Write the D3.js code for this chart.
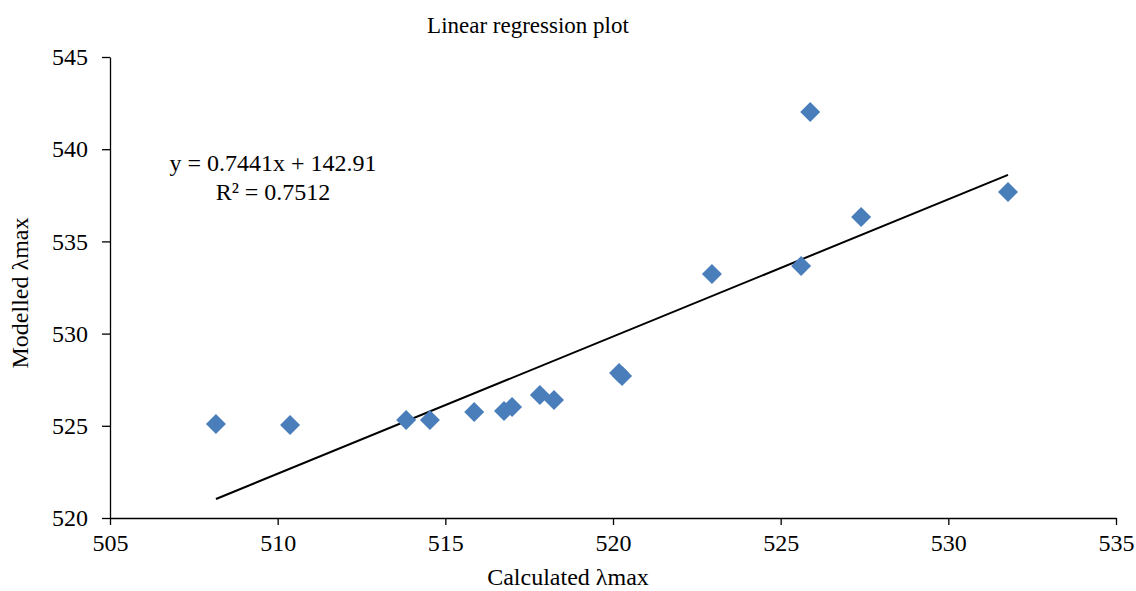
<!DOCTYPE html>
<html><head><meta charset="utf-8">
<script src="https://cdn.jsdelivr.net/npm/d3@7"></script>
<style>body{margin:0;background:#fff}svg{display:block}text{font-family:"Liberation Serif","Times New Roman",serif;fill:#000}</style>
</head><body>
<script>
const calculated = [508.16, 510.37, 513.83, 514.54, 515.86, 516.75, 516.99, 517.82, 518.24, 520.18, 520.27, 522.95, 525.61, 525.88, 527.40, 531.78];
const modelled   = [525.10, 525.04, 525.31, 525.31, 525.75, 525.80, 526.02, 526.67, 526.40, 527.86, 527.70, 533.23, 533.67, 542.02, 536.32, 537.68];
const xTicks = [505, 510, 515, 520, 525, 530, 535];
const yTicks = [520, 525, 530, 535, 540, 545];
const slope = 0.7441, intercept = 142.91;
const equationText = "y = 0.7441x + 142.91";
const r2Text = "R² = 0.7512";
const titleText = "Linear regression plot";
const xTitle = "Calculated λmax";
const yTitle = "Modelled  λmax";

const W = 1136, H = 591;
const svg = d3.select("body").append("svg").attr("width", W).attr("height", H);
const x = d3.scaleLinear().domain([505, 535]).range([110, 1116]);
const y = d3.scaleLinear().domain([520, 545]).range([518, 57]);

const xAxis = svg.append("g").attr("transform", `translate(0,${y(520)})`)
  .call(d3.axisBottom(x).tickValues(xTicks).tickSize(7).tickSizeOuter(0).tickPadding(9));
const yAxis = svg.append("g").attr("transform", `translate(${x(505)},0)`)
  .call(d3.axisLeft(y).tickValues(yTicks).tickSize(8).tickSizeOuter(0).tickPadding(14));
[xAxis, yAxis].forEach(a => {
  a.attr("font-family", "Liberation Serif").attr("font-size", 24);
  a.selectAll("path,line").attr("stroke", "#000").attr("stroke-width", 1.3);
  a.selectAll("text").style("font-size", "24px").style("font-family", "'Liberation Serif', serif");
});

// trendline
const xmin = d3.min(calculated), xmax = d3.max(calculated);
svg.append("line")
  .attr("x1", x(xmin)).attr("y1", y(slope * xmin + intercept))
  .attr("x2", x(xmax)).attr("y2", y(slope * xmax + intercept))
  .attr("stroke", "#000").attr("stroke-width", 2);

// points
const diamond = d3.symbol().type(d3.symbolSquare).size(200);
svg.append("g").selectAll("path").data(calculated).join("path")
  .attr("d", diamond)
  .attr("transform", (d, i) => `translate(${x(d)},${y(modelled[i])}) rotate(45)`)
  .attr("fill", "#4a7ebb");

svg.append("text").attr("x", 528).attr("y", 33).attr("text-anchor", "middle").style("font-size", "23px").text(titleText);
svg.append("text").attr("x", 568).attr("y", 585).attr("text-anchor", "middle").style("font-size", "24px").text(xTitle);
svg.append("text").attr("transform", "translate(28,293) rotate(-90)").attr("text-anchor", "middle").style("font-size", "24px").text(yTitle);
svg.append("text").attr("x", 273).attr("y", 171).attr("text-anchor", "middle").style("font-size", "24px").text(equationText);
svg.append("text").attr("x", 273).attr("y", 200).attr("text-anchor", "middle").style("font-size", "24px").text(r2Text);
</script>
</body></html>
